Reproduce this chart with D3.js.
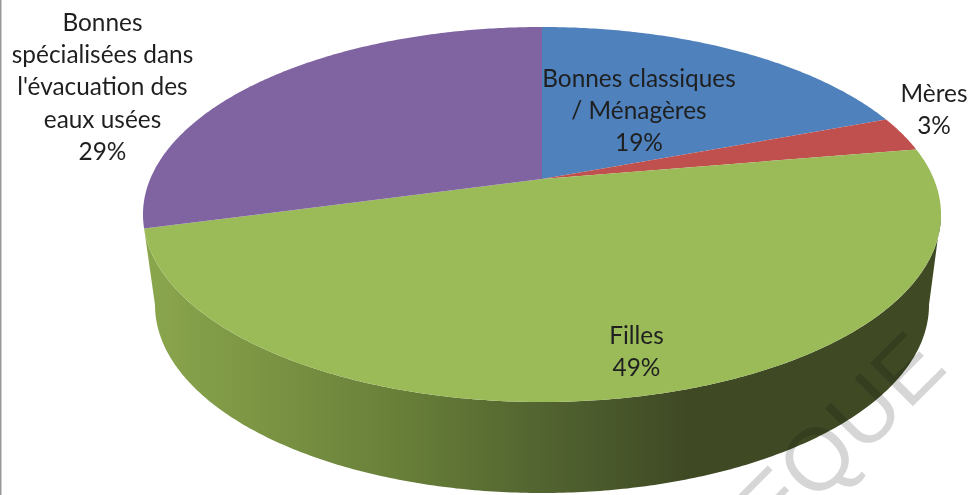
<!DOCTYPE html>
<html><head><meta charset="utf-8">
<script src="https://cdn.jsdelivr.net/npm/d3@7"></script>
<style>html,body{margin:0;padding:0;background:#fff;overflow:hidden}svg{display:block}
text{font-family:Lato,"Open Sans",sans-serif}</style></head>
<body><svg id="c" width="971" height="495"></svg>
<script>
const categories = ["Bonnes classiques / Ménagères","Mères","Filles","Bonnes spécialisées dans l'évacuation des eaux usées"];
const values = [19.3,3,48.5,29.2];
const colors = ["#4F81BD","#C0504D","#9BBB59","#8064A2"];
const labelLines = [["Bonnes classiques","/ Ménagères","19%"],["Mères","3%"],["Filles","49%"],["Bonnes","spécialisées dans","l'évacuation des","eaux usées","29%"]];
const labelAnchors = [[639,78],[934,93],[636.5,335],[102.5,22]];
const sideStops = [[0,"#8BA74D"],[0.33,"#677E38"],[0.5,"#526430"],[0.68,"#3F4A25"],[1,"#3F4A25"]];

const svg = d3.select("#c");
const k = 0.1893;
const topFace = {x0:542,y0:179,A:180.8,B:391.8};
const botFace = {x0:542,y0:269.4,A:181.3,B:380};
function project(f,t){
  const u=Math.sin(t),v=-Math.cos(t),d=1-k*v;
  return [f.x0+f.B*u/d,f.y0+f.A*v/d];
}
const arcs = d3.pie().sort(null).value(d=>d)(values);
function sampled(f,a,b){
  const n=Math.max(2,Math.ceil(Math.abs(b-a)/0.01));
  return d3.range(n+1).map(i=>project(f,a+(b-a)*i/n));
}
const line=d3.line();

// side wall
const defs=svg.append("defs");
const g=defs.append("linearGradient").attr("id","side").attr("gradientUnits","userSpaceOnUse")
  .attr("x1",143).attr("x2",941).attr("y1",0).attr("y2",0);
sideStops.forEach(s=>g.append("stop").attr("offset",s[0]).attr("stop-color",s[1]));
const green=arcs[2];
const tangentR=Math.PI-Math.asin(Math.sqrt(1-k*k));
const tangentL=Math.PI+Math.asin(Math.sqrt(1-k*k));
const sidePts=sampled(topFace,tangentR,green.endAngle).concat(sampled(botFace,tangentL,tangentR));
svg.append("path").attr("d",line(sidePts)+"Z").attr("fill","url(#side)");

// top face
svg.append("g").selectAll("path").data(arcs).join("path")
  .attr("d",d=>line([[topFace.x0,topFace.y0]].concat(sampled(topFace,d.startAngle,d.endAngle)))+"Z")
  .attr("fill",(d,i)=>colors[i]);

// labels
const lg=svg.append("g").attr("font-size",24.4).attr("fill","#1f1f1f").attr("text-anchor","middle");
labelLines.forEach((ls,i)=>{
  ls.forEach((s,j)=>lg.append("text").attr("x",labelAnchors[i][0]).attr("y",labelAnchors[i][1]+j*32.4)
    .attr("dy","0.35em").text(s));
});

// scan frame edge
svg.append("line").attr("x1",0.5).attr("x2",0.5).attr("y1",0).attr("y2",495).attr("stroke","#999").attr("stroke-width",2);

// watermark
svg.append("text").attr("transform","translate(773,546) rotate(-45)")
  .attr("font-size",88).attr("fill","#d6d6d6").style("mix-blend-mode","multiply")
  .style("font-family","'Liberation Sans',sans-serif").text("EQUE");
</script></body></html>
